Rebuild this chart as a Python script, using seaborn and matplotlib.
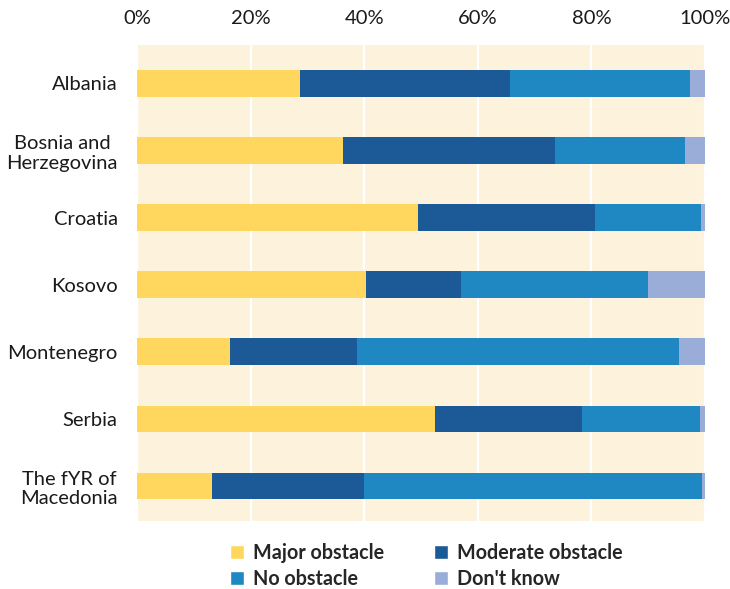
import matplotlib
matplotlib.use('Agg')
import matplotlib.pyplot as plt
from matplotlib.patches import Patch
from matplotlib.ticker import PercentFormatter
import seaborn as sns
import pandas as pd
import numpy as np

countries = ['Albania', 'Bosnia and\nHerzegovina', 'Croatia', 'Kosovo',
             'Montenegro', 'Serbia', 'The fYR of\nMacedonia']
categories = ['Major obstacle', 'Moderate obstacle', 'No obstacle', "Don't know"]

major = [28.7, 36.3, 49.4, 40.4, 16.4, 52.4, 13.2]
moderate = [37.0, 37.3, 31.3, 16.6, 22.4, 26.0, 26.8]
no_obstacle = [31.6, 22.9, 18.6, 33.0, 56.7, 20.8, 59.5]
dont_know = [2.7, 3.5, 0.7, 10.0, 4.5, 0.8, 0.5]

colors = ['#FFD75F', '#1B5A96', '#1F87C2', '#9AADD8']


def main():
    sns.set_style('white')
    plt.rcParams['font.family'] = ['Lato', 'DejaVu Sans']

    df = pd.DataFrame({'Country': countries, 'Major obstacle': major,
                       'Moderate obstacle': moderate, 'No obstacle': no_obstacle,
                       "Don't know": dont_know})
    cum = df[categories].cumsum(axis=1)

    fig = plt.figure(figsize=(7.3, 5.89), dpi=100)
    ax = fig.add_axes([0.1877, 0.1155, 0.778, 0.808])
    ax.set_facecolor('#FDF3DC')

    # stacked bars: draw the longest cumulative first
    for cat, col in reversed(list(zip(categories, colors))):
        sns.barplot(x=cum[cat], y=df['Country'], color=col, orient='h',
                    width=0.4, saturation=1, ax=ax, linewidth=0)

    ax.set_xlim(0, 100)
    ax.set_ylim(6.52, -0.57)
    ax.xaxis.tick_top()
    ax.set_xticks(np.arange(0, 101, 20))
    ax.xaxis.set_major_formatter(PercentFormatter(decimals=0))
    ax.grid(axis='x', color='white', linewidth=1.6)
    ax.grid(axis='y', visible=False)
    ax.set_axisbelow(True)
    for s in ax.spines.values():
        s.set_visible(False)
    ax.tick_params(axis='both', length=0, labelsize=14.5, colors='#1a1a1a')
    ax.tick_params(axis='x', pad=13)
    ax.tick_params(axis='y', pad=14)
    for lbl in ax.get_yticklabels():
        lbl.set_multialignment('center')
    ax.set_xlabel('')
    ax.set_ylabel('')

    handles = [Patch(facecolor=colors[i], label=categories[i]) for i in [0, 2, 1, 3]]
    fig.legend(handles=handles, loc='lower left', bbox_to_anchor=(0.291, -0.03),
               ncol=2, frameon=False, handlelength=0.72, handleheight=0.72,
               handletextpad=0.45, columnspacing=2.5, labelspacing=0.3,
               prop={'weight': 'bold', 'size': 14.2})

    plt.savefig('out.png', dpi=100)
    plt.close()


if __name__ == '__main__':
    main()
